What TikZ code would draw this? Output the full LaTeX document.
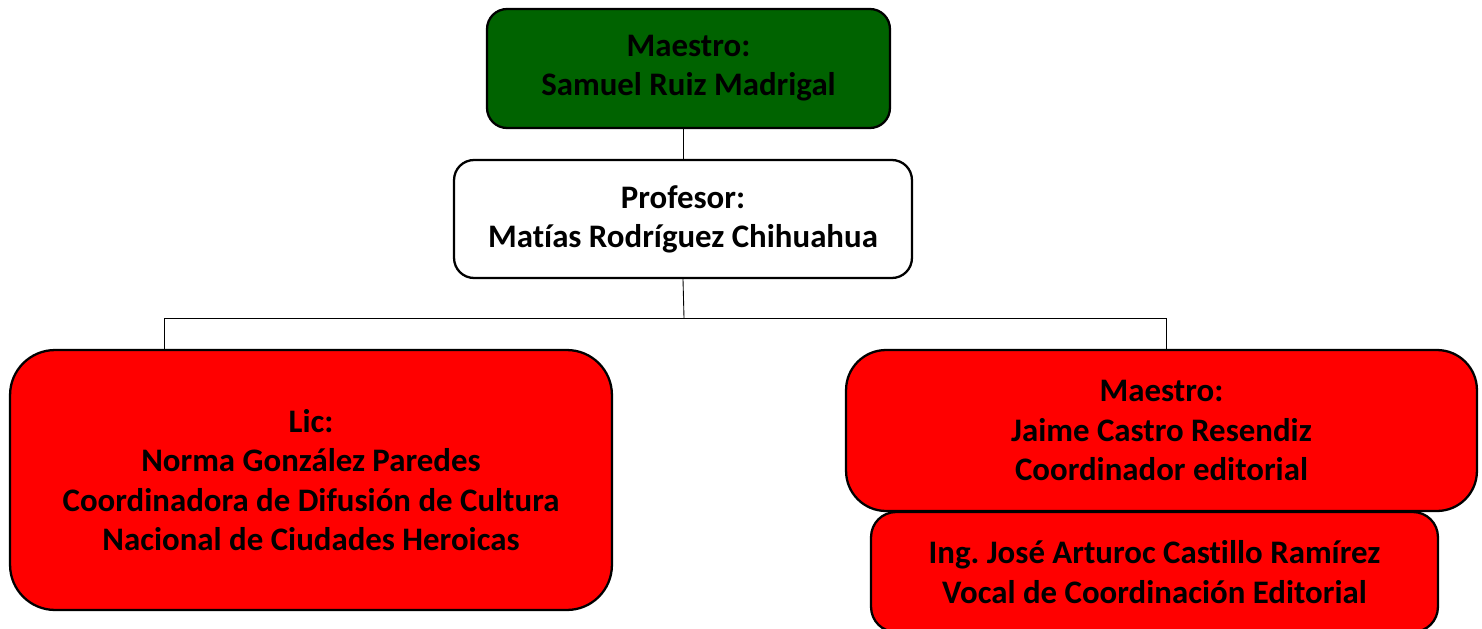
\documentclass[tikz,border=0pt]{standalone}
\usepackage{fontspec}
\setmainfont{Carlito}[Ligatures={NoCommon}]
\usepackage{tikz}
\frenchspacing

\begin{document}
\begin{tikzpicture}[
  x=0.02cm, y=-0.02cm,
  orgbox/.style={draw=black, line width=1.3pt, inner sep=0pt, align=center,
    font=\fontsize{18.7}{22.3}\selectfont\bfseries},
  headbox/.style={orgbox, fill=green!39!black, rounded corners=0.4cm},
  plainbox/.style={orgbox, fill=white, rounded corners=0.4cm},
  bigbox/.style={orgbox, fill=red, rounded corners=0.9cm},
  midbox/.style={orgbox, fill=red, rounded corners=0.8cm},
  smallbox/.style={orgbox, fill=red, rounded corners=0.5cm},
  link/.style={draw=black, line width=0.5pt}]

\useasboundingbox (0,0) rectangle (1482,629);

% Top of the chart
\node[headbox, minimum width=8.06cm, minimum height=2.38cm] (maestroSamuel) at (688.5,68.5)
  {Maestro:\\Samuel Ruiz Madrigal};
\node[plainbox, minimum width=9.16cm, minimum height=2.36cm] (profesorMatias) at (683,219)
  {Profesor:\\Matías Rodríguez Chihuahua};

% Second level
\node[bigbox, minimum width=12.04cm, minimum height=5.2cm] (licNorma) at (311,480)
  {Lic:\\Norma González Paredes\\Coordinadora de Difusión de Cultura\\Nacional de Ciudades Heroicas};
\node[smallbox, minimum width=11.34cm, minimum height=2.4cm] (ingJose) at (1154.5,572)
  {Ing. José Arturoc Castillo Ramírez\\Vocal de Coordinación Editorial};
\node[midbox, minimum width=12.62cm, minimum height=3.22cm] (maestroJaime) at (1161.5,430.5)
  {Maestro:\\Jaime Castro Resendiz\\Coordinador editorial};

% Connectors
\coordinate (branch) at (684,318);
\coordinate (leftDrop) at (164,318);
\coordinate (rightDrop) at (1166,318);
\draw[link] (profesorMatias.north) -- (profesorMatias.north |- maestroSamuel.south);
\draw[link] (profesorMatias.south) -- (branch);
\draw[link] (leftDrop) -- (rightDrop);
\draw[link] (leftDrop) -- (leftDrop |- licNorma.north);
\draw[link] (rightDrop) -- (rightDrop |- maestroJaime.north);

\end{tikzpicture}
\end{document}
